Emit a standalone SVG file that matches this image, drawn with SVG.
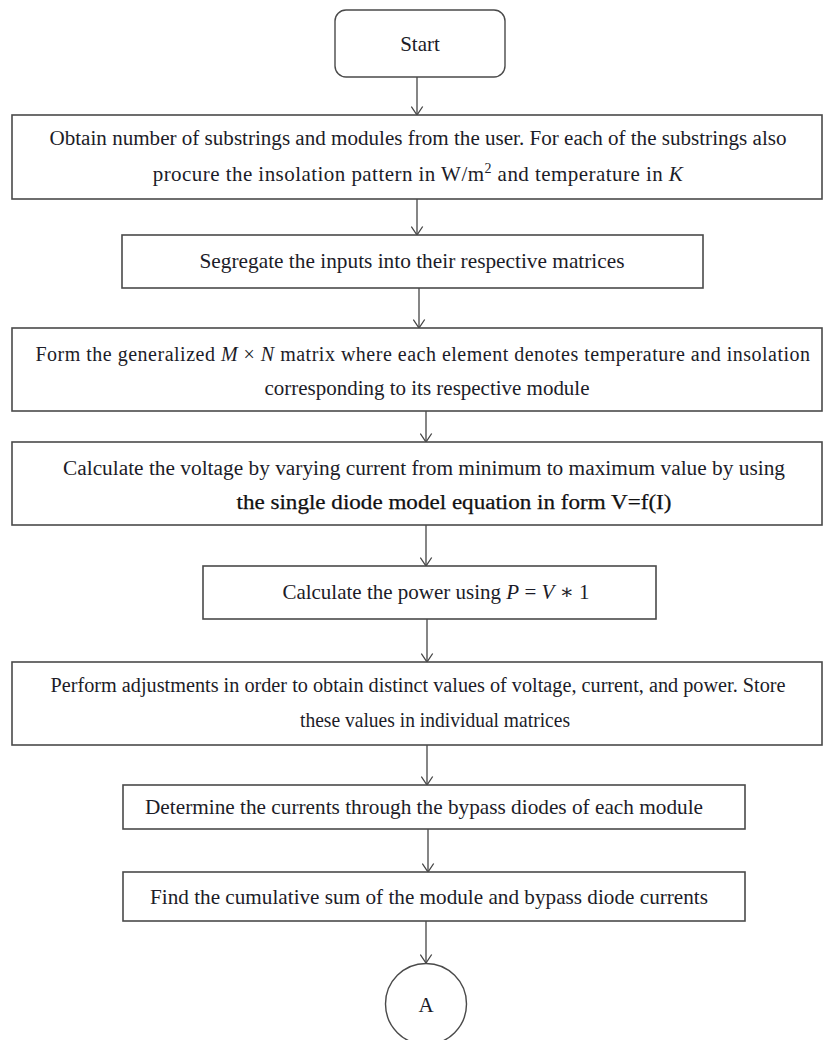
<svg xmlns="http://www.w3.org/2000/svg" width="831" height="1040" viewBox="0 0 831 1040">
  <defs>
    <!-- open V arrowhead, drawn pointing along +x so orient="auto" turns it with the line -->
    <marker id="arrow" markerWidth="10" markerHeight="13" refX="9" refY="6.5" orient="auto" markerUnits="userSpaceOnUse" viewBox="0 0 10 13">
      <path d="M0.5,0.8 L9,6.5 L0.5,12.2" fill="none" stroke="#444" stroke-width="1.3"/>
    </marker>
    <style>
      .box { fill: #ffffff; stroke: #4a4a4a; stroke-width: 1.6; }
      .term { fill: #ffffff; stroke: #4a4a4a; stroke-width: 1.4; }
      .label { font-family: "Liberation Serif", "DejaVu Serif", serif; font-size: 21px; fill: #1c1c28; text-anchor: middle; }
      .wide { font-size: 20px; }
      .alt { font-family: "Liberation Serif", "DejaVu Serif", serif; font-size: 20px; fill: #111111; text-anchor: middle; stroke: #111111; stroke-width: 0.25; }
      .it { font-style: italic; }
      .conn { stroke: #444; stroke-width: 1.3; fill: none; marker-end: url(#arrow); }
    </style>
  </defs>
  <rect width="831" height="1040" fill="#ffffff"/>

  <!-- connectors -->
  <g id="connectors">
    <line class="conn" x1="417" y1="77" x2="417" y2="115"/>
    <line class="conn" x1="417" y1="199" x2="417" y2="235"/>
    <line class="conn" x1="419" y1="288" x2="419" y2="328"/>
    <line class="conn" x1="426" y1="411" x2="426" y2="442"/>
    <line class="conn" x1="426" y1="525" x2="426" y2="566"/>
    <line class="conn" x1="427" y1="619" x2="427" y2="662"/>
    <line class="conn" x1="427" y1="745" x2="427" y2="785"/>
    <line class="conn" x1="428" y1="829" x2="428" y2="872"/>
    <line class="conn" x1="426" y1="921" x2="426" y2="963"/>
  </g>

  <!-- start terminal -->
  <g id="start">
    <rect class="term" x="335" y="10" width="170" height="67" rx="11" ry="11"/>
    <text class="label" x="420" y="51" font-size="22">Start</text>
  </g>

  <!-- inputs -->
  <g id="obtain-inputs">
    <rect class="box" x="12" y="115" width="810" height="84"/>
    <text class="label wide" x="418" y="145" textLength="737" lengthAdjust="spacingAndGlyphs">Obtain number of substrings and modules from the user. For each of the substrings also</text>
    <text class="label" x="418" y="181" font-size="22" letter-spacing="0.45">procure the insolation pattern in W/m<tspan font-size="14" dy="-8">2</tspan><tspan dy="8"> and temperature in </tspan><tspan class="it">K</tspan></text>
  </g>

  <g id="segregate">
    <rect class="box" x="122" y="235" width="581" height="53"/>
    <text class="label" x="412" y="268" textLength="425" lengthAdjust="spacingAndGlyphs">Segregate the inputs into their respective matrices</text>
  </g>

  <g id="form-matrix">
    <rect class="box" x="12" y="328" width="810" height="83"/>
    <text class="label wide" x="423" y="361" letter-spacing="0.5">Form the generalized <tspan class="it">M</tspan> × <tspan class="it">N</tspan> matrix where each element denotes temperature and insolation</text>
    <text class="label" x="427" y="395" textLength="325" lengthAdjust="spacingAndGlyphs">corresponding to its respective module</text>
  </g>

  <g id="calc-voltage">
    <rect class="box" x="12" y="442" width="810" height="83"/>
    <text class="label wide" x="424" y="475" textLength="722" lengthAdjust="spacingAndGlyphs">Calculate the voltage by varying current from minimum to maximum value by using</text>
    <text class="alt" x="454" y="509" textLength="435" lengthAdjust="spacingAndGlyphs">the single diode model equation in form V=f(I)</text>
  </g>

  <g id="calc-power">
    <rect class="box" x="203" y="566" width="453" height="53"/>
    <text class="label" x="436" y="599">Calculate the power using  <tspan class="it">P</tspan> = <tspan class="it">V</tspan> ∗ 1</text>
  </g>

  <g id="adjust-store">
    <rect class="box" x="12" y="662" width="810" height="83"/>
    <text class="label wide" x="418" y="692" textLength="735" lengthAdjust="spacingAndGlyphs">Perform adjustments in order to obtain distinct values of voltage, current, and power. Store</text>
    <text class="label" x="435" y="727" textLength="270" lengthAdjust="spacingAndGlyphs">these values in individual matrices</text>
  </g>

  <g id="bypass-currents">
    <rect class="box" x="123" y="785" width="622" height="44"/>
    <text class="label" x="424" y="814" textLength="558" lengthAdjust="spacingAndGlyphs">Determine the currents through the bypass diodes of each module</text>
  </g>

  <g id="cumulative-sum">
    <rect class="box" x="123" y="872" width="622" height="49"/>
    <text class="label" x="429" y="904" textLength="558" lengthAdjust="spacingAndGlyphs">Find the cumulative sum of the module and bypass diode currents</text>
  </g>

  <!-- off-page connector -->
  <g id="connector-a">
    <circle class="term" cx="426" cy="1004" r="40.5"/>
    <text class="label" x="426" y="1012" font-size="20">A</text>
  </g>
</svg>
